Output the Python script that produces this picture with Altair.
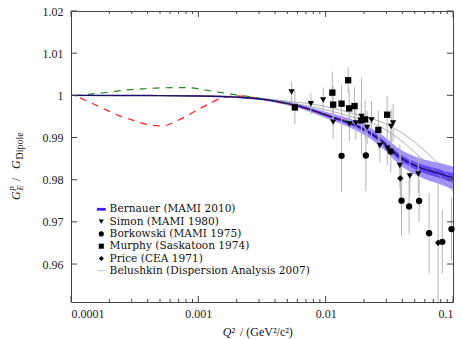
import altair as alt
import pandas as pd

FONT = "Liberation Serif"
LFONT = "DejaVu Serif"

# ---------------- data ----------------
# Bernauer (MAMI 2010) fit: centre line and half widths of the two bands
bern_q2 = [1e-4, 4.17e-4, 1.0e-3, 1.97e-3, 3.72e-3, 6.27e-3, 1.08e-2, 1.86e-2,
           2.66e-2, 3.82e-2, 5.49e-2, 7.88e-2, 1.0e-1]
bern_g = [1.0000, 0.99995, 0.99986, 0.99957, 0.99881, 0.99738, 0.99500, 0.99238,
          0.98952, 0.98536, 0.98286, 0.98143, 0.98040]
bern_outer = [0.0001, 0.0001, 0.00015, 0.0002, 0.0003, 0.0005, 0.0008, 0.0012,
              0.0015, 0.0019, 0.0022, 0.0025, 0.0027]
bern_inner = [0.00004, 0.00004, 0.00006, 0.00008, 0.00012, 0.0002, 0.0003, 0.00045,
              0.0006, 0.00075, 0.0009, 0.001, 0.0011]

# Belushkin (two thin grey curves)
bel_q2 = [1e-4, 1.03e-3, 4.37e-3, 9.0e-3, 1.855e-2, 2.662e-2, 3.823e-2, 5.489e-2, 7.88e-2, 9.96e-2]
bel_up = [1.0000, 0.99990, 0.99881, 0.99762, 0.99524, 0.99381, 0.99143, 0.98786, 0.98333, 0.97952]
bel_lo = [1.0000, 0.99985, 0.99857, 0.99690, 0.99429, 0.99262, 0.98952, 0.98548, 0.98095, 0.97714]

# red dashed curve
red_q2 = [1.18e-4, 1.75e-4, 2.30e-4, 3.01e-4, 3.95e-4, 5.18e-4, 6.79e-4, 8.91e-4,
          1.147e-3, 1.505e-3, 2.01e-3, 2.78e-3, 3.72e-3, 6.27e-3, 1.08e-2, 1.549e-2]
red_g = [0.99940, 0.99702, 0.99536, 0.99417, 0.99310, 0.99274, 0.99393, 0.99583,
         0.99762, 0.99929, 0.99988, 0.99940, 0.99869, 0.99726, 0.99500, 0.99369]

# green dashed curve
grn_q2 = [1.075e-4, 1.198e-4, 1.917e-4, 2.654e-4, 3.607e-4, 4.996e-4, 6.55e-4, 8.59e-4,
          1.107e-3, 1.505e-3, 1.973e-3, 2.78e-3, 3.72e-3, 6.27e-3, 1.08e-2, 1.549e-2]
grn_g = [0.99988, 1.00005, 1.00067, 1.00124, 1.00152, 1.00176, 1.00183, 1.00179,
         1.00131, 1.00067, 1.00012, 0.99952, 0.99874, 0.99738, 0.99500, 0.99369]

# Simon (MAMI 1980)
simon_q2 = [0.0054, 0.00765, 0.00956, 0.01145, 0.01535, 0.01726, 0.01913, 0.02117,
            0.02293, 0.02664, 0.0305, 0.0327, 0.03386, 0.03823, 0.04581, 0.0534]
simon_g = [1.00079, 0.9980, 0.9989, 0.99365, 0.99318, 0.99342, 0.9950, 0.99239,
           0.99413, 0.9881, 0.98747, 0.99263, 0.99342, 0.98335, 0.98085, 0.98137]
simon_e = [0.0025, 0.0025, 0.0030, 0.0040, 0.0040, 0.0040, 0.0090, 0.0040,
           0.0045, 0.0040, 0.0040, 0.0040, 0.0045, 0.0050, 0.0045, 0.0045]

# Borkowski (MAMI 1975)
bork_q2 = [0.01333, 0.02068, 0.03249, 0.03943, 0.04523, 0.05419, 0.06494, 0.08241, 0.0973]
bork_g = [0.98566, 0.98573, 0.98668, 0.97502, 0.97366, 0.97495, 0.96733, 0.96526, 0.96828]
bork_e = [0.0085, 0.0085, 0.0050, 0.0085, 0.0065, 0.0050, 0.0095, 0.0075, 0.0075]

# Murphy (Saskatoon 1974)
mur_q2 = [0.00573, 0.01128, 0.01145, 0.01333, 0.01502, 0.0153, 0.01686, 0.01906,
          0.02042, 0.02593, 0.03039]
mur_g = [0.99714, 1.00065, 0.9978, 0.99803, 1.00358, 0.99691, 0.99746, 0.99406,
         0.9943, 0.9918, 0.99541]
mur_e = [0.0040, 0.0050, 0.0045, 0.0045, 0.0031, 0.0045, 0.0045, 0.0045,
         0.0045, 0.0045, 0.0045]

# Price (CEA 1971)
price_q2 = [0.03857, 0.07638]
price_g = [0.98033, 0.96502]
price_e = [0.0060, 0.0150]

names = ["Bernauer (MAMI 2010)", "Simon (MAMI 1980)", "Borkowski (MAMI 1975)",
         "Murphy (Saskatoon 1974)", "Price (CEA 1971)",
         "Belushkin (Dispersion Analysis 2007)"]
shapes = ["M-1.75,-0.55H1.75V0.55H-1.75Z", "triangle-down", "circle", "square",
          "diamond", "M-1.75,-0.12H1.75V0.12H-1.75Z"]
colors = ["#3d1fff", "black", "black", "black", "black", "#999999"]

x_labels = [0.0001, 0.001, 0.01, 0.1]
x_minor = [2e-4, 3e-4, 4e-4, 5e-4, 6e-4, 7e-4, 8e-4, 9e-4,
           2e-3, 3e-3, 4e-3, 5e-3, 6e-3, 7e-3, 8e-3, 9e-3,
           2e-2, 3e-2, 4e-2, 5e-2, 6e-2, 7e-2, 8e-2, 9e-2]
y_labels = [0.96, 0.97, 0.98, 0.99, 1.0, 1.01, 1.02]

# ---------------- tables ----------------
bern = pd.DataFrame({"q2": bern_q2, "g": bern_g, "ho": bern_outer, "hi": bern_inner})
bel = pd.concat([
    pd.DataFrame({"q2": bel_q2, "g": bel_up, "c": "up"}),
    pd.DataFrame({"q2": bel_q2, "g": bel_lo, "c": "lo"}),
])
red = pd.DataFrame({"q2": red_q2, "g": red_g})
grn = pd.DataFrame({"q2": grn_q2, "g": grn_g})
pts = pd.concat([
    pd.DataFrame({"q2": simon_q2, "g": simon_g, "e": simon_e, "series": names[1]}),
    pd.DataFrame({"q2": bork_q2, "g": bork_g, "e": bork_e, "series": names[2]}),
    pd.DataFrame({"q2": mur_q2, "g": mur_g, "e": mur_e, "series": names[3]}),
    pd.DataFrame({"q2": price_q2, "g": price_g, "e": price_e, "series": names[4]}),
])

W, H = 382, 291
xs = alt.Scale(type="log", domain=[1e-4, 0.1], nice=False)
ys = alt.Scale(domain=[0.951, 1.02], nice=False, zero=False)
AX = alt.Axis(values=x_labels, format="~g", title=None, ticks=False,
              domain=False, grid=False, labelPadding=6)
AY = alt.Axis(values=y_labels, format="~g", title=None, ticks=False,
              domain=False, grid=False, labelPadding=8)


def XF(f):
    return alt.X(f, scale=xs, axis=AX, title=None)


def YF(f):
    return alt.Y(f, scale=ys, axis=AY, title=None)


outer = alt.Chart(bern).transform_calculate(
    lo="datum.g - datum.ho", up="datum.g + datum.ho"
).mark_area(color="#8f80ff", opacity=0.85, interpolate="monotone").encode(
    x=XF("q2:Q"), y=YF("lo:Q"), y2="up:Q",
)
inner = alt.Chart(bern).transform_calculate(
    lo="datum.g - datum.hi", up="datum.g + datum.hi"
).mark_area(color="#5b3ff5", opacity=0.9, interpolate="monotone").encode(
    x=XF("q2:Q"), y=YF("lo:Q"), y2="up:Q"
)
centre = alt.Chart(bern).mark_line(color="#1c0e70", strokeWidth=1.4,
                                   interpolate="monotone").encode(x=XF("q2:Q"), y=YF("g:Q"))
belu = alt.Chart(bel).mark_line(color="#9a9a9a", strokeWidth=0.8,
                                interpolate="monotone").encode(
    x=XF("q2:Q"), y=YF("g:Q"), detail="c:N")
redl = alt.Chart(red).mark_line(color="#ff2020", strokeWidth=1.2, strokeDash=[7, 6],
                                interpolate="monotone").encode(x=XF("q2:Q"), y=YF("g:Q"))
grnl = alt.Chart(grn).mark_line(color="#1e8c1e", strokeWidth=1.2, strokeDash=[7, 6],
                                interpolate="monotone").encode(x=XF("q2:Q"), y=YF("g:Q"))

errs = alt.Chart(pts).transform_calculate(
    lo="datum.g - datum.e", up="datum.g + datum.e"
).mark_rule(color="#b4b4b4", strokeWidth=1, clip=True).encode(
    x=XF("q2:Q"), y=YF("lo:Q"), y2="up:Q"
)

leg = alt.Legend(orient="none", legendX=25, legendY=193, title=None,
                 labelFont=LFONT, labelFontSize=10.6, labelColor="#111", labelLimit=0,
                 symbolStrokeWidth=0, symbolSize=26, rowPadding=1.3, labelOffset=3,
                 padding=0)
points = alt.Chart(pts).mark_point(filled=True, size=40, opacity=1).encode(
    x=XF("q2:Q"), y=YF("g:Q"),
    shape=alt.Shape("series:N", scale=alt.Scale(domain=names, range=shapes), legend=leg),
    color=alt.Color("series:N", scale=alt.Scale(domain=names, range=colors), legend=leg),
)

TICK = "#444444"
tmaj = pd.DataFrame({"t": x_labels})
tmin = pd.DataFrame({"t": x_minor})
ty = pd.DataFrame({"t": y_labels})
ticks = [
    alt.Chart(tmaj).mark_rule(color=TICK).encode(x=XF("t:Q"), y=alt.value(H), y2=alt.value(H - 6)),
    alt.Chart(tmin).mark_rule(color=TICK).encode(x=XF("t:Q"), y=alt.value(H), y2=alt.value(H - 3)),
    alt.Chart(tmaj).mark_rule(color=TICK).encode(x=XF("t:Q"), y=alt.value(0), y2=alt.value(6)),
    alt.Chart(tmin).mark_rule(color=TICK).encode(x=XF("t:Q"), y=alt.value(0), y2=alt.value(3)),
    alt.Chart(ty).mark_rule(color=TICK).encode(y=YF("t:Q"), x=alt.value(0), x2=alt.value(6)),
    alt.Chart(ty).mark_rule(color=TICK).encode(y=YF("t:Q"), x=alt.value(W), x2=alt.value(W - 6)),
]


def txt(s, x, y, size=12, italic=False, angle=0):
    return alt.Chart(pd.DataFrame({"s": [s]})).mark_text(
        text=s, font=FONT, fontSize=size, fontStyle="italic" if italic else "normal",
        angle=angle, align="left", baseline="alphabetic", color="#111"
    ).encode(x=alt.value(x), y=alt.value(y))


titles = [
    txt("Q²", 151.7, 325, 12, True),
    txt("/ (GeV²/c²)", 169, 325, 12),
    txt("G", -51, 189, 12, True, 270),
    txt("E", -48, 179.5, 8.5, True, 270),
    txt("p", -57.5, 179.5, 8.5, True, 270),
    txt("/", -51, 170, 12, False, 270),
    txt("G", -51, 158, 12, True, 270),
    txt("Dipole", -48, 148.5, 10, False, 270),
]

chart = alt.layer(
    outer, inner, belu, redl, grnl, centre, errs, points, *ticks, *titles
).properties(
    width=W, height=H, autosize="none",
    padding={"left": 71, "top": 11, "right": 8, "bottom": 37},
).configure_view(stroke="#444444", strokeWidth=1).configure_axis(
    labelFont=FONT, labelFontSize=12, labelColor="#222"
)

chart.save("out.html", embed_options={"renderer": "svg", "actions": False})
